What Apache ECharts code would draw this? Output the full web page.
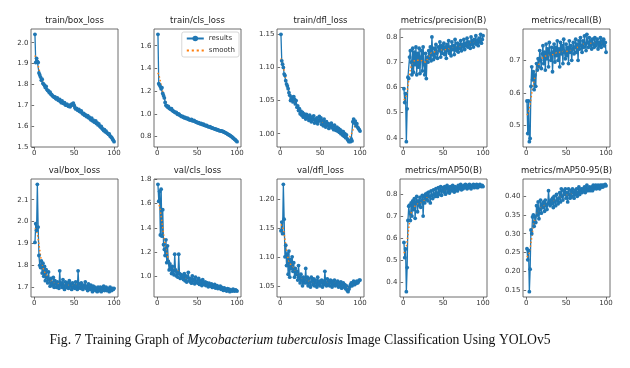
<!DOCTYPE html>
<html><head><meta charset="utf-8">
<script src="https://cdn.jsdelivr.net/npm/echarts@6/dist/echarts.min.js"></script>
<style>html,body{margin:0;padding:0;background:#fff}#c{width:630px;height:368px}</style>
</head><body><div id="c"></div>
<script>
const epochs = Array.from({length:100},(_,i)=>i+1);

const trainBoxLoss = [
2.040,1.905,1.925,1.910,1.905,1.855,1.845,1.835,1.820,1.825,
1.805,1.800,1.795,1.785,1.790,1.775,1.770,1.768,1.760,1.762,
1.752,1.750,1.745,1.742,1.738,1.740,1.732,1.730,1.735,1.725,
1.722,1.728,1.718,1.712,1.720,1.710,1.708,1.712,1.702,1.700,
1.705,1.698,1.695,1.700,1.692,1.698,1.705,1.702,1.710,1.700,
1.688,1.682,1.685,1.678,1.675,1.680,1.670,1.668,1.672,1.662,
1.658,1.660,1.652,1.655,1.648,1.645,1.650,1.640,1.642,1.635,
1.630,1.638,1.625,1.628,1.620,1.618,1.625,1.612,1.615,1.605,
1.610,1.600,1.595,1.598,1.588,1.585,1.578,1.582,1.572,1.575,
1.568,1.565,1.560,1.562,1.552,1.548,1.545,1.538,1.532,1.525];

const trainClsLoss = [
1.700,1.265,1.255,1.240,1.220,1.230,1.180,1.160,1.140,1.100,
1.075,1.070,1.060,1.065,1.050,1.045,1.040,1.045,1.030,1.025,
1.020,1.015,1.010,1.012,1.000,0.995,1.000,0.990,0.985,0.980,
0.975,0.978,0.970,0.965,0.968,0.960,0.958,0.962,0.952,0.950,
0.948,0.945,0.950,0.940,0.938,0.942,0.935,0.930,0.928,0.925,
0.920,0.922,0.915,0.912,0.915,0.908,0.905,0.908,0.900,0.898,
0.895,0.898,0.890,0.888,0.885,0.888,0.880,0.878,0.875,0.872,
0.870,0.868,0.865,0.862,0.860,0.858,0.855,0.852,0.850,0.850,
0.848,0.845,0.842,0.838,0.835,0.830,0.828,0.822,0.818,0.815,
0.810,0.805,0.800,0.795,0.788,0.782,0.775,0.770,0.762,0.755];

const trainDflLoss = [
1.150,1.110,1.105,1.100,1.090,1.088,1.080,1.075,1.072,1.068,
1.062,1.058,1.050,1.052,1.055,1.048,1.056,1.052,1.045,1.050,
1.040,1.042,1.035,1.038,1.030,1.034,1.028,1.032,1.025,1.030,
1.027,1.022,1.029,1.024,1.026,1.020,1.028,1.023,1.018,1.025,
1.021,1.027,1.016,1.022,1.018,1.024,1.015,1.020,1.026,1.019,
1.024,1.014,1.020,1.012,1.022,1.016,1.010,1.018,1.013,1.015,
1.008,1.014,1.011,1.016,1.009,1.012,1.006,1.013,1.008,1.005,
1.010,1.004,1.008,1.002,1.006,1.000,1.004,0.998,1.003,0.996,
1.000,0.994,0.998,0.992,0.990,0.988,0.989,0.988,0.992,0.989,
1.018,1.022,1.016,1.019,1.012,1.015,1.010,1.008,1.006,1.004];

const precision = [
0.595,0.540,0.575,0.385,0.515,0.640,0.635,0.720,0.745,0.700,
0.650,0.755,0.660,0.740,0.690,0.760,0.650,0.735,0.680,0.755,
0.655,0.720,0.745,0.665,0.760,0.690,0.650,0.735,0.635,0.720,
0.700,0.745,0.715,0.760,0.705,0.800,0.730,0.710,0.755,0.720,
0.770,0.735,0.715,0.760,0.745,0.780,0.720,0.765,0.735,0.755,
0.775,0.730,0.760,0.715,0.770,0.745,0.785,0.735,0.760,0.725,
0.780,0.750,0.765,0.730,0.790,0.755,0.745,0.775,0.740,0.770,
0.755,0.785,0.745,0.770,0.760,0.790,0.750,0.775,0.765,0.795,
0.760,0.780,0.770,0.755,0.800,0.770,0.785,0.760,0.790,0.775,
0.805,0.770,0.785,0.765,0.795,0.780,0.810,0.775,0.790,0.805];

const recall = [
0.575,0.475,0.575,0.450,0.460,0.620,0.680,0.640,0.665,0.610,
0.655,0.620,0.690,0.670,0.705,0.680,0.730,0.700,0.675,0.720,
0.745,0.690,0.725,0.670,0.750,0.705,0.735,0.680,0.755,0.720,
0.700,0.740,0.665,0.725,0.750,0.695,0.740,0.715,0.760,0.700,
0.735,0.680,0.755,0.720,0.745,0.690,0.765,0.725,0.705,0.750,
0.715,0.740,0.690,0.760,0.725,0.745,0.700,0.735,0.755,0.720,
0.740,0.765,0.725,0.750,0.700,0.760,0.735,0.770,0.745,0.725,
0.760,0.740,0.775,0.750,0.730,0.780,0.755,0.740,0.770,0.745,
0.760,0.735,0.765,0.750,0.740,0.770,0.745,0.755,0.765,0.735,
0.755,0.745,0.770,0.740,0.760,0.750,0.765,0.745,0.755,0.725];

const valBoxLoss = [
1.905,1.990,1.960,2.170,1.975,1.845,1.800,1.790,1.820,1.765,
1.810,1.750,1.795,1.730,1.780,1.745,1.720,1.770,1.735,1.705,
1.740,1.720,1.710,1.745,1.700,1.730,1.715,1.700,1.725,1.705,
1.695,1.775,1.710,1.720,1.700,1.735,1.705,1.690,1.725,1.710,
1.700,1.720,1.695,1.730,1.705,1.715,1.690,1.720,1.700,1.710,
1.695,1.725,1.705,1.690,1.775,1.700,1.715,1.695,1.720,1.700,
1.690,1.710,1.700,1.725,1.695,1.705,1.685,1.715,1.700,1.690,
1.710,1.695,1.680,1.705,1.690,1.700,1.685,1.695,1.680,1.700,
1.690,1.685,1.700,1.680,1.695,1.690,1.705,1.685,1.690,1.700,
1.685,1.695,1.690,1.680,1.700,1.690,1.685,1.695,1.690,1.695];

const valClsLoss = [
1.760,1.620,1.700,1.340,1.720,1.330,1.550,1.260,1.220,1.170,
1.300,1.110,1.250,1.120,1.050,1.100,1.060,1.020,1.080,1.040,
1.010,1.180,1.050,1.000,1.030,0.990,1.180,1.020,0.980,1.010,
0.990,1.000,0.970,1.020,0.960,1.000,0.950,0.990,1.030,0.960,
0.980,0.950,0.940,1.000,0.960,0.970,0.935,0.990,0.950,0.960,
0.940,0.980,0.930,0.960,0.950,0.920,0.970,0.940,0.930,0.950,
0.920,0.945,0.930,0.910,0.940,0.925,0.915,0.935,0.905,0.920,
0.910,0.930,0.900,0.915,0.920,0.895,0.910,0.900,0.915,0.890,
0.905,0.895,0.880,0.900,0.890,0.885,0.875,0.895,0.880,0.890,
0.870,0.885,0.880,0.875,0.890,0.880,0.875,0.885,0.880,0.875];

const valDflLoss = [
1.145,1.160,1.140,1.225,1.165,1.100,1.120,1.085,1.105,1.070,
1.110,1.065,1.095,1.080,1.100,1.075,1.090,1.065,1.080,1.070,
1.075,1.060,1.085,1.065,1.055,1.070,1.060,1.050,1.065,1.055,
1.060,1.080,1.055,1.065,1.050,1.062,1.055,1.048,1.065,1.058,
1.052,1.062,1.050,1.060,1.055,1.048,1.065,1.052,1.058,1.050,
1.055,1.060,1.048,1.058,1.052,1.075,1.055,1.050,1.062,1.052,
1.058,1.050,1.060,1.055,1.048,1.058,1.052,1.060,1.050,1.055,
1.052,1.058,1.048,1.055,1.050,1.057,1.046,1.052,1.055,1.048,
1.052,1.045,1.050,1.042,1.040,1.044,1.048,1.052,1.055,1.050,
1.055,1.058,1.052,1.056,1.054,1.058,1.055,1.057,1.060,1.060];

const mAP50 = [
0.580,0.510,0.550,0.355,0.465,0.680,0.745,0.750,0.680,0.760,
0.700,0.770,0.730,0.780,0.690,0.765,0.790,0.720,0.770,0.750,
0.785,0.740,0.770,0.795,0.700,0.790,0.760,0.800,0.775,0.805,
0.770,0.810,0.790,0.760,0.815,0.795,0.780,0.820,0.800,0.790,
0.825,0.805,0.790,0.830,0.800,0.815,0.835,0.795,0.820,0.830,
0.810,0.835,0.800,0.825,0.840,0.810,0.830,0.805,0.835,0.820,
0.815,0.840,0.825,0.810,0.835,0.820,0.830,0.815,0.840,0.825,
0.830,0.845,0.820,0.835,0.825,0.840,0.830,0.845,0.835,0.825,
0.840,0.830,0.845,0.835,0.825,0.840,0.835,0.845,0.830,0.840,
0.835,0.845,0.830,0.840,0.835,0.845,0.840,0.835,0.840,0.835];

const mAP5095 = [
0.260,0.230,0.255,0.145,0.205,0.310,0.300,0.345,0.350,0.320,
0.345,0.330,0.375,0.350,0.385,0.340,0.365,0.390,0.355,0.380,
0.370,0.385,0.360,0.390,0.375,0.365,0.380,0.415,0.385,0.375,
0.390,0.380,0.395,0.370,0.400,0.385,0.375,0.405,0.390,0.380,
0.395,0.410,0.385,0.420,0.400,0.390,0.415,0.405,0.420,0.395,
0.410,0.385,0.420,0.405,0.395,0.415,0.400,0.420,0.410,0.395,
0.415,0.405,0.420,0.400,0.410,0.425,0.405,0.415,0.420,0.410,
0.420,0.415,0.425,0.410,0.420,0.430,0.415,0.420,0.425,0.415,
0.420,0.425,0.415,0.430,0.420,0.425,0.430,0.420,0.425,0.430,
0.425,0.420,0.430,0.425,0.430,0.425,0.430,0.428,0.432,0.428];

const panelTitles = ['train/box_loss','train/cls_loss','train/dfl_loss','metrics/precision(B)','metrics/recall(B)',
  'val/box_loss','val/cls_loss','val/dfl_loss','metrics/mAP50(B)','metrics/mAP50-95(B)'];
const panelValues = [trainBoxLoss,trainClsLoss,trainDflLoss,precision,recall,valBoxLoss,valClsLoss,valDflLoss,mAP50,mAP5095];

const xTickLabels = ['0','50','100'];
const yTickLabels = [
  ['1.5','1.6','1.7','1.8','1.9','2.0'],
  ['0.8','1.0','1.2','1.4','1.6'],
  ['1.00','1.05','1.10','1.15'],
  ['0.4','0.5','0.6','0.7','0.8'],
  ['0.5','0.6','0.7'],
  ['1.7','1.8','1.9','2.0','2.1'],
  ['1.0','1.2','1.4','1.6','1.8'],
  ['1.05','1.10','1.15','1.20'],
  ['0.4','0.5','0.6','0.7','0.8'],
  ['0.15','0.20','0.25','0.30','0.35','0.40']
];
const legendNames = ['results','smooth'];

// gaussian smoothing (as in ultralytics plot_results: gaussian_filter1d, sigma=3, reflect)
function gaussianSmooth(y, sigma){
  const r = Math.floor(4*sigma+0.5), w=[]; let s=0;
  for(let k=-r;k<=r;k++){const v=Math.exp(-0.5*k*k/(sigma*sigma)); w.push(v); s+=v;}
  const n=y.length;
  return y.map((_,i)=>{let acc=0; for(let k=-r;k<=r;k++){let j=i+k; while(j<0||j>=n){ if(j<0) j=-j-1; if(j>=n) j=2*n-j-1;} acc+=w[k+r]/s*y[j];} return acc;});
}
function padRange(arr){const mn=Math.min(...arr), mx=Math.max(...arr), m=(mx-mn)*0.05; return [mn-m, mx+m];}

const FONT='DejaVu Sans';
const lefts=[31,154,277,400,523], tops=[29,179], W=87, H=118;
const blue='#1f77b4', orange='#ff7f0e';
const grids=[], xAxes=[], yAxes=[], series=[], graphics=[];
const xr = padRange(epochs);
const xVals = xTickLabels.map(Number);

panelValues.forEach((vals,i)=>{
  const L=lefts[i%5], T=tops[Math.floor(i/5)];
  grids.push({left:L, top:T, width:W, height:H, show:true, borderColor:'#4a4a4a', borderWidth:0.8, containLabel:false, outerBoundsMode:'none'});
  xAxes.push({type:'value', gridIndex:i, min:xr[0], max:xr[1],
    axisLine:{show:false}, splitLine:{show:false},
    axisTick:{show:true, length:2.5, customValues:xVals, lineStyle:{color:'#4a4a4a', width:0.8}},
    axisLabel:{customValues:xVals, margin:2.5, fontSize:7, color:'#333', fontFamily:FONT, formatter:v=>String(Math.round(v))}});
  const yr = padRange(vals);
  const tl = yTickLabels[i], tv = tl.map(Number);
  yAxes.push({type:'value', gridIndex:i, min:yr[0], max:yr[1], scale:true,
    axisLine:{show:false}, splitLine:{show:false},
    axisTick:{show:true, length:2.5, customValues:tv, lineStyle:{color:'#4a4a4a', width:0.8}},
    axisLabel:{customValues:tv, margin:2.5, fontSize:7, color:'#333', fontFamily:FONT,
      formatter:v=>{let best=tl[0],bd=1e9; tl.forEach(s=>{const d=Math.abs(Number(s)-v); if(d<bd){bd=d;best=s;}}); return best;}}});
  series.push({type:'line', name:legendNames[0], xAxisIndex:i, yAxisIndex:i,
    data:epochs.map((e,k)=>[e,vals[k]]), symbol:'circle', symbolSize:3.8, showAllSymbol:true,
    lineStyle:{width:1.3,color:blue}, itemStyle:{color:blue}, silent:true, animation:false});
  const sm = gaussianSmooth(vals,3);
  series.push({type:'line', name:legendNames[1], xAxisIndex:i, yAxisIndex:i,
    data:epochs.map((e,k)=>[e,sm[k]]), symbol:'none',
    lineStyle:{width:1.5,color:orange,type:[1.5,2.2]}, itemStyle:{color:orange}, silent:true, animation:false});
  graphics.push({type:'text', x:L+W/2, y:T-8, silent:true,
    style:{text:panelTitles[i], fontSize:8.5, fontFamily:FONT, fill:'#222', align:'center', verticalAlign:'middle', textAlign:'center', textVerticalAlign:'middle'}});
});

graphics.push({type:'text', x:300, y:340, silent:true,
  style:{text:'{n|Fig. 7 Training Graph of }{i|Mycobacterium tuberculosis}{n| Image Classification Using YOLOv5}',
    align:'center', verticalAlign:'middle', textAlign:'center', textVerticalAlign:'middle',
    rich:{n:{fontSize:13.7, fontFamily:'Liberation Serif', fill:'#111', color:'#111'}, i:{fontSize:13.7, fontFamily:'Liberation Serif', fontStyle:'italic', fill:'#111', color:'#111'}}}});

const chart = echarts.init(document.getElementById('c'), null, {renderer:'canvas'});
chart.setOption({
  backgroundColor:'#fff', animation:false,
  grid:grids, xAxis:xAxes, yAxis:yAxes, series:series, graphic:graphics,
  legend:{data:[{name:legendNames[0]},
      {name:legendNames[1], icon:'path://M0,0h2v2h-2z M4.6,0h2v2h-2z M9.2,0h2v2h-2z M13.8,0h2v2h-2z'}],
    orient:'vertical', right:630-239, top:32, selectedMode:false,
    backgroundColor:'rgba(255,255,255,0.8)', borderColor:'#ccc', borderWidth:0.8, borderRadius:2,
    padding:[3,4,3,4], itemGap:5, itemWidth:17, itemHeight:7,
    textStyle:{fontSize:7, color:'#333', fontFamily:FONT}}
});
</script></body></html>
